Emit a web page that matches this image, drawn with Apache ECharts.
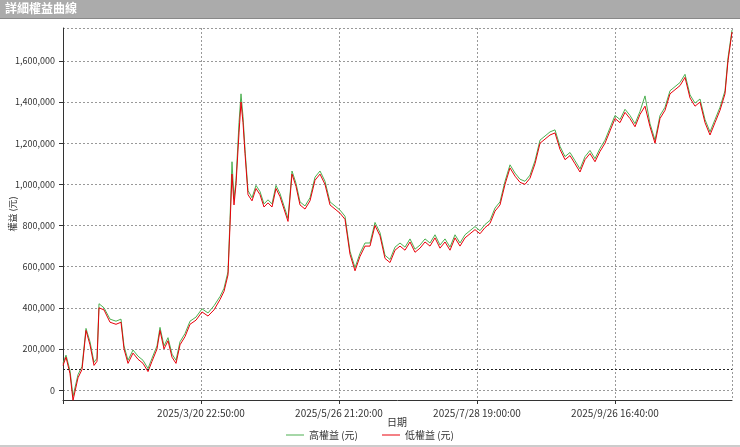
<!DOCTYPE html>
<html><head><meta charset="utf-8">
<script src="https://cdn.jsdelivr.net/npm/echarts@6/dist/echarts.min.js"></script>
<style>html,body{margin:0;padding:0;background:#fff}#c{width:740px;height:447px}</style>
</head><body><div id="c"></div>
<script>
const title = '詳細權益曲線';
const xName = '日期';
const yName = '權益 (元)';
const tickLabels = ['', '2025/3/20 22:50:00', '2025/5/26 21:20:00', '2025/7/28 19:00:00', '2025/9/26 16:40:00'];
const xs = [0,3,7,10,15,19,23,27,31,34,36,41,47,53,58,61,65,70,75,80,85,89,94,97,101,105,109,113,117,122,127,133,139,145,151,157,161,165,167,169,171,173,176,178,180,182,185,189,193,197,201,205,209,213,217,221,225,229,233,237,242,247,252,257,262,267,272,277,282,287,292,297,302,307,312,317,322,327,332,337,342,347,352,357,362,367,372,377,382,387,392,397,402,407,412,417,422,427,432,437,442,447,452,457,462,467,472,477,482,487,492,497,502,507,512,517,522,527,532,537,542,547,552,557,562,567,572,577,582,587,592,597,602,607,612,617,622,627,632,637,642,647,652,657,662,665,669];
const lowVals = [120000,160000,80000,-50000,60000,100000,290000,220000,120000,140000,400000,390000,330000,320000,330000,200000,130000,180000,150000,130000,90000,140000,200000,290000,200000,240000,160000,130000,220000,260000,320000,340000,380000,360000,390000,440000,480000,560000,800000,1050000,900000,1000000,1250000,1400000,1300000,1150000,950000,920000,980000,950000,890000,910000,890000,980000,940000,880000,820000,1050000,990000,900000,880000,920000,1020000,1050000,1000000,900000,880000,860000,830000,660000,580000,650000,700000,700000,800000,750000,640000,620000,680000,700000,680000,720000,670000,690000,720000,700000,740000,690000,720000,680000,740000,700000,740000,760000,780000,760000,790000,810000,870000,900000,1000000,1080000,1040000,1010000,1000000,1030000,1100000,1200000,1220000,1240000,1250000,1170000,1120000,1140000,1100000,1060000,1120000,1150000,1110000,1160000,1200000,1260000,1320000,1300000,1350000,1320000,1280000,1340000,1380000,1280000,1200000,1320000,1360000,1440000,1460000,1480000,1520000,1420000,1380000,1400000,1300000,1240000,1300000,1360000,1440000,1600000,1740000];
const highVals = [130000,170000,95000,-30000,75000,115000,300000,235000,135000,155000,420000,400000,345000,335000,345000,215000,145000,195000,165000,145000,105000,155000,215000,305000,215000,255000,175000,145000,235000,275000,335000,355000,395000,375000,410000,455000,495000,575000,830000,1110000,930000,1020000,1300000,1440000,1330000,1170000,970000,935000,995000,965000,905000,925000,905000,995000,955000,895000,835000,1065000,1005000,915000,895000,935000,1035000,1065000,1015000,915000,895000,875000,845000,675000,595000,665000,715000,715000,815000,765000,655000,635000,695000,715000,695000,735000,685000,705000,735000,715000,755000,705000,735000,695000,755000,715000,755000,775000,795000,775000,805000,825000,885000,915000,1015000,1095000,1055000,1025000,1015000,1045000,1115000,1215000,1235000,1255000,1265000,1185000,1135000,1155000,1115000,1075000,1135000,1165000,1125000,1175000,1215000,1275000,1335000,1315000,1365000,1335000,1295000,1355000,1430000,1295000,1215000,1335000,1375000,1455000,1475000,1495000,1535000,1435000,1395000,1415000,1315000,1255000,1315000,1375000,1455000,1615000,1750000];
const legendNames = ['高權益 (元)', '低權益 (元)'];
const refLine = 100000;

const chart = echarts.init(document.getElementById('c'));
const font = 'Noto Sans CJK TC';
chart.setOption({
  animation: false,
  textStyle: {fontFamily: font},
  graphic: [
    {type:'rect', left:0, top:0, shape:{width:740, height:18}, style:{fill:'#ababab'}},
    {type:'rect', left:0, top:18, shape:{width:740, height:1}, style:{fill:'#888'}},
    {type:'text', left:5, top:2, style:{text:title, fill:'#fff', font:'bold 12px "Noto Sans CJK TC"'}},
    {type:'rect', left:0, top:445, shape:{width:740, height:2}, style:{fill:'#ccc'}},
    {type:'text', x:397, y:422, style:{text:xName, fill:'#333', font:'10px "Noto Sans CJK TC"', align:'center', verticalAlign:'middle'}},
    {type:'text', x:13, y:214, rotation:Math.PI/2, style:{text:yName, fill:'#333', font:'9px "Noto Sans CJK TC"', align:'center', verticalAlign:'middle'}}
  ],
  grid: {left:63, right:8, top:28, bottom:47, containLabel:false, outerBoundsMode:'none'},
  legend: {bottom:2, left:'center', itemWidth:18, itemHeight:1, icon:'rect', itemGap:24,
    textStyle:{fontSize:10, color:'#333', fontFamily:font}, data: legendNames},
  xAxis: {type:'value', min:0, max:669, interval:138,
    axisLine:{onZero:false, lineStyle:{color:'#333'}}, axisTick:{show:true, length:4, lineStyle:{color:'#333'}},
    axisLabel:{fontSize:10, color:'#333', showMaxLabel:false, formatter: v => tickLabels[Math.round(v/138)] || ''},
    splitLine:{show:true, lineStyle:{type:[2,2], color:'#999'}}},
  yAxis: {type:'value', min:-48000, max:1760000, splitNumber:9,
    axisLine:{show:true, lineStyle:{color:'#333'}}, axisTick:{show:true, length:4, lineStyle:{color:'#333'}},
    axisLabel:{fontSize:9, color:'#333', showMinLabel:false, showMaxLabel:false, formatter: v => v.toLocaleString('en-US')},
    splitLine:{show:true, lineStyle:{type:[2,2], color:'#999'}}},
  series: [
    {name:legendNames[0], type:'line', showSymbol:false, symbol:'none', color:'#4caf50', lineStyle:{width:1},
      data: xs.map((x,i)=>[x, highVals[i]])},
    {name:legendNames[1], type:'line', showSymbol:false, symbol:'none', color:'#e8000b', lineStyle:{width:1},
      data: xs.map((x,i)=>[x, lowVals[i]]),
      markLine:{silent:true, symbol:'none', label:{show:false}, lineStyle:{color:'#222', type:[2,2], width:1},
        data:[{yAxis: refLine}]}}
  ]
});
</script></body></html>
